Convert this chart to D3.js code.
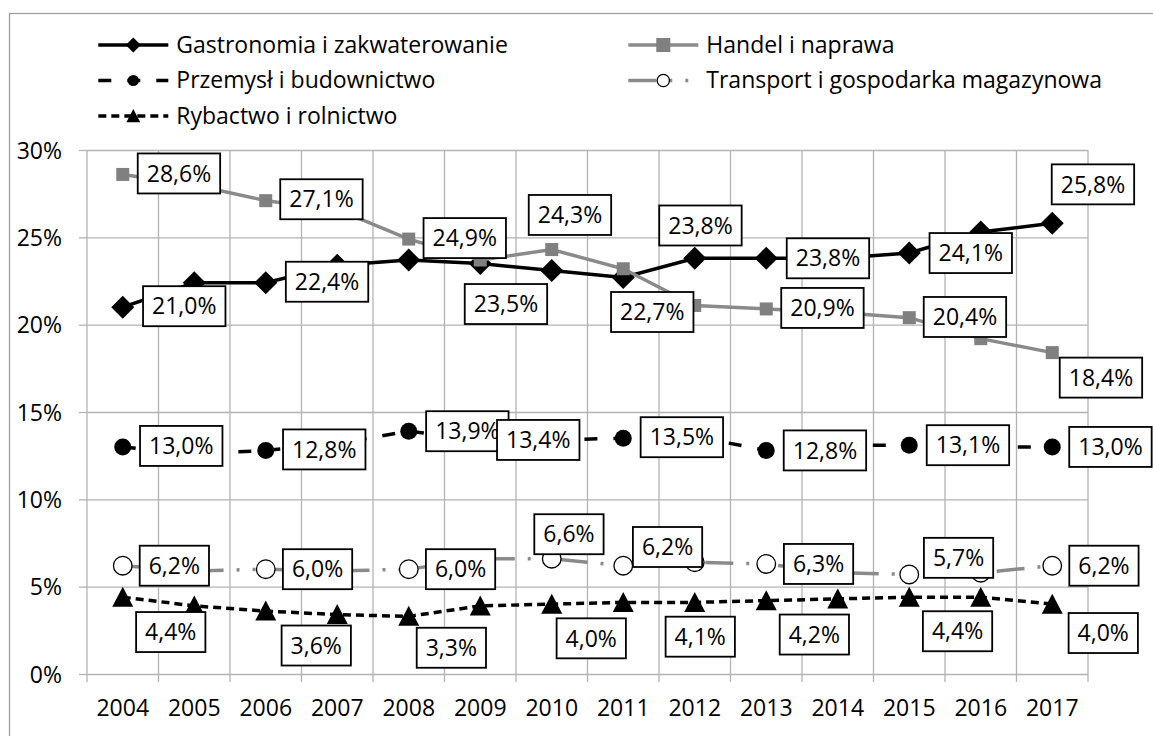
<!DOCTYPE html>
<html>
<head>
<meta charset="utf-8">
<script src="https://cdn.jsdelivr.net/npm/d3@7"></script>
<style>
  body { margin: 0; background: #fff; }
  text { font-family: "Open Sans", sans-serif; font-size: 23px; fill: #000; }
</style>
</head>
<body>
<div id="chart"></div>
<script>
// data (percent)
var years = ["2004", "2005", "2006", "2007", "2008", "2009", "2010", "2011", "2012", "2013", "2014", "2015", "2016", "2017"];
var gastronomia = [21.0, 22.4, 22.4, 23.4, 23.7, 23.5, 23.1, 22.7, 23.8, 23.8, 23.8, 24.1, 25.3, 25.8];
var handel = [28.6, 28.0, 27.1, 26.6, 24.9, 23.7, 24.3, 23.2, 21.1, 20.9, 20.7, 20.4, 19.2, 18.4];
var przemysl = [13.0, 12.6, 12.8, 13.2, 13.9, 13.4, 13.4, 13.5, 13.6, 12.8, 13.1, 13.1, 13.0, 13.0];
var transport = [6.2, 5.9, 6.0, 5.9, 6.0, 6.6, 6.6, 6.2, 6.4, 6.3, 5.8, 5.7, 5.8, 6.2];
var rybactwo = [4.4, 3.9, 3.6, 3.4, 3.3, 3.9, 4.0, 4.1, 4.1, 4.2, 4.3, 4.4, 4.4, 4.0];
var seriesNames = ["Gastronomia i zakwaterowanie", "Handel i naprawa", "Przemysł i budownictwo",
                   "Transport i gospodarka magazynowa", "Rybactwo i rolnictwo"];
var yTicks = [0, 5, 10, 15, 20, 25, 30];

// which points carry a label box: [index, dx, dy] from the point to the box centre
var labelsGastronomia = [[0, 61.5, -1], [2, 61.3, -1], [5, 25.7, 40.5], [7, 29, 34.5], [8, 5.7, -32.8], [9, 61.7, 0], [11, 61.5, 0], [13, 40.7, -39]];
var labelsHandel = [[0, 56.2, -1], [2, 55.7, -1.4], [4, 56, -1], [6, 18.2, -34.6], [9, 56.2, -1], [11, 55.7, -0.7], [13, 48.7, 25]];
var labelsPrzemysl = [[0, 58.5, -1], [2, 58.5, -1], [4, 58.6, 0], [5, 58, 0], [7, 58.6, -1], [9, 58.7, 0], [11, 58.7, 0], [13, 58.2, 0]];
var labelsTransport = [[0, 51.6, 0], [2, 51.8, 0], [4, 51.8, 0], [6, 17.2, -24.5], [7, 44.3, -18.7], [9, 52.3, 0], [11, 49.3, -16.6], [13, 51.7, 0]];
var labelsRybactwo = [[0, 48, 34.9], [2, 50.5, 34.4], [4, 42.6, 31.4], [6, 39.5, 34.2], [8, 5.5, 34.3], [9, 48.1, 33.9], [11, 48.3, 34.1], [13, 51, 28.9]];

var totalWidth = 1153, totalHeight = 736;
var plot = {left: 87, right: 1088, top: 150, bottom: 674};
var gridColor = "#b3b3b3";

var svg = d3.select("#chart").append("svg")
    .attr("width", totalWidth)
    .attr("height", totalHeight);

svg.append("rect")
    .attr("x", 9.5).attr("y", 13.5)
    .attr("width", 1160).attr("height", 740)
    .attr("fill", "#fff").attr("stroke", "#a0a0a0").attr("stroke-width", 1.3);

var x = d3.scaleBand().domain(years).range([plot.left, plot.right]).padding(0);
var y = d3.scaleLinear().domain([0, 30]).range([plot.bottom, plot.top]);
var cx = function(i) { return x(years[i]) + x.bandwidth() / 2; };

// horizontal grid + y axis
var yAxis = d3.axisLeft(y)
    .tickValues(yTicks)
    .tickSize(8)
    .tickPadding(17)
    .tickFormat(function(d) { return d + "%"; });
var gy = svg.append("g").attr("transform", "translate(" + plot.left + ",0)").call(yAxis);
gy.select(".domain").remove();
gy.selectAll("line").attr("stroke", gridColor).attr("stroke-width", 1.3).attr("x2", -8)
    .clone().attr("x1", 0).attr("x2", plot.right - plot.left);
gy.selectAll("text").attr("dy", "0.36em").style("font-size", "23px").style("font-family", "Open Sans, sans-serif");

// vertical grid at category boundaries (with tick below axis)
var bounds = years.map(function(d) { return x(d); }).concat([plot.right]);
svg.append("g").selectAll("line")
    .data(bounds)
    .enter()
    .append("line")
    .attr("x1", function(d) { return d; })
    .attr("x2", function(d) { return d; })
    .attr("y1", plot.top)
    .attr("y2", plot.bottom + 8)
    .attr("stroke", gridColor)
    .attr("stroke-width", 1.3);

// x axis labels
var xAxis = d3.axisBottom(x).tickSize(0).tickPadding(0);
var gx = svg.append("g").attr("transform", "translate(0," + plot.bottom + ")").call(xAxis);
gx.select(".domain").remove();
gx.selectAll("text").attr("y", 42).attr("dy", 0)
    .style("font-size", "23px").style("font-family", "Open Sans, sans-serif");

// markers
function drawMarker(g, type, scale) {
    var s = scale || 1;
    if (type === "diamond") {
        var h = 11.5 * s;
        g.append("path").attr("d", "M0," + (-h) + "L" + h + ",0L0," + h + "L" + (-h) + ",0Z").attr("fill", "#000");
    } else if (type === "square") {
        var a = 13 * s;
        g.append("rect").attr("x", -a / 2).attr("y", -a / 2).attr("width", a).attr("height", a).attr("fill", "#808080");
    } else if (type === "dot") {
        g.append("circle").attr("r", 8.5 * s).attr("fill", "#000");
    } else if (type === "ring") {
        g.append("circle").attr("r", 9.3 * s).attr("fill", "#fff").attr("stroke", "#000").attr("stroke-width", 1.3);
    } else if (type === "triangle") {
        var w = 10.5 * s;
        g.append("path").attr("d", "M0," + (-10.5 * s) + "L" + w + "," + (9.5 * s) + "L" + (-w) + "," + (9.5 * s) + "Z").attr("fill", "#000");
    }
}

var series = [
    {name: seriesNames[0], values: gastronomia, color: "#000", dash: null, marker: "diamond", labels: labelsGastronomia},
    {name: seriesNames[1], values: handel, color: "#8a8a8a", dash: null, marker: "square", labels: labelsHandel},
    {name: seriesNames[2], values: przemysl, color: "#000", dash: "13,16", marker: "dot", labels: labelsPrzemysl},
    {name: seriesNames[3], values: transport, color: "#8a8a8a", dash: "28,13,3,13,3,13", marker: "ring", labels: labelsTransport},
    {name: seriesNames[4], values: rybactwo, color: "#000", dash: "8,5", marker: "triangle", labels: labelsRybactwo}
];

var line = d3.line()
    .x(function(d, i) { return cx(i); })
    .y(function(d) { return y(d); });

series.forEach(function(s) {
    var g = svg.append("g");
    g.append("path")
        .attr("d", line(s.values))
        .attr("fill", "none")
        .attr("stroke", s.color)
        .attr("stroke-width", 3.5)
        .attr("stroke-dasharray", s.dash);
    s.values.forEach(function(v, i) {
        var m = g.append("g").attr("transform", "translate(" + cx(i) + "," + y(v) + ")");
        drawMarker(m, s.marker);
    });
});

// data labels
var fmt = function(v) { return v.toFixed(1).replace(".", ",") + "%"; };
series.forEach(function(s) {
    s.labels.forEach(function(l) {
        var v = s.values[l[0]];
        var px = cx(l[0]) + l[1], py = y(v) + l[2];
        var g = svg.append("g").attr("transform", "translate(" + px + "," + py + ")");
        var box = g.append("rect").attr("fill", "#fff").attr("stroke", "#000").attr("stroke-width", 1.8);
        var t = g.append("text").attr("text-anchor", "middle").attr("y", 8.2).text(fmt(v));
        var w = t.node().getComputedTextLength() + 18;
        box.attr("x", -w / 2).attr("y", -20).attr("width", w).attr("height", 40);
    });
});

// legend
var legendPos = [[98.3, 45], [628.3, 45], [98.3, 80.5], [628.3, 80.5], [98.3, 116]];
series.forEach(function(s, i) {
    var lx = legendPos[i][0], ly = legendPos[i][1];
    var g = svg.append("g");
    g.append("line")
        .attr("x1", lx).attr("x2", lx + 70)
        .attr("y1", ly).attr("y2", ly)
        .attr("stroke", s.color).attr("stroke-width", 3.5)
        .attr("stroke-dasharray", s.dash);
    var m = g.append("g").attr("transform", "translate(" + (lx + 35) + "," + ly + ")");
    drawMarker(m, s.marker, s.marker === "square" ? 1.08 : 0.66);
    g.append("text").attr("x", lx + 78).attr("y", ly + 7.7).text(s.name);
});
</script>
</body>
</html>
